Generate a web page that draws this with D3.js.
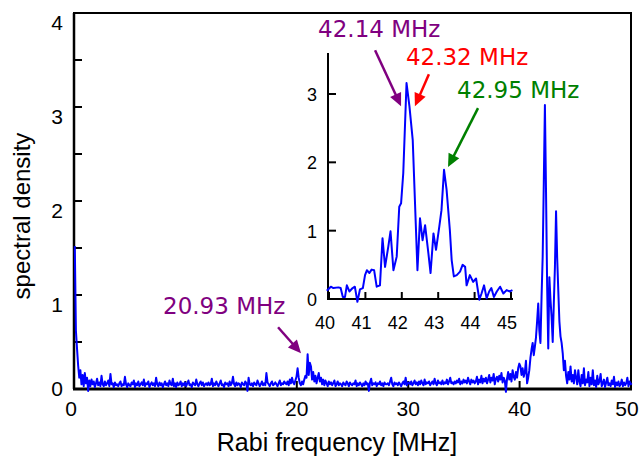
<!DOCTYPE html>
<html><head><meta charset="utf-8">
<script src="https://cdn.jsdelivr.net/npm/d3@7"></script>
<style>body{margin:0;background:#fff}</style>
</head><body>
<svg id="chart" width="641" height="458"></svg>
<script>
// ---- data ----
const mainStep = 0.1; // MHz between samples of the main spectrum
const mainValues = [
 1.52,0.62,0.43,0.25,0.12,0.2,0.05,0.15,0.03,0.17,
 0.06,0.12,-0.02,0.09,0.03,0.1,0.05,0.08,0.02,0.06,
 0.11,0.04,0.07,0.03,0.14,0.05,0.03,0.08,0.04,0.06,
 0.09,0.03,0.16,0.05,0.06,0.02,0.07,0.04,0.05,0.03,
 0.06,0.08,0.03,0.05,0.04,0.13,0.05,0.02,0.06,0.04,
 0.03,0.07,0.05,0.09,0.02,0.06,0.04,0.08,0.03,0.05,
 0.07,0.04,0.1,0.03,0.06,0.05,0.08,0.02,0.05,0.07,
 0.04,0.06,0.03,0.12,0.05,0.03,0.07,0.04,0.06,0.02,
 0.05,0.08,0.04,0.06,0.03,0.09,0.05,0.04,0.11,0.03,
 0.06,0.02,0.07,0.04,0.05,0.08,0.03,0.06,0.04,0.07,
 0.03,0.06,0.09,0.04,0.05,0.02,0.07,0.05,0.04,0.1,
 0.05,0.03,0.06,0.08,0.04,0.07,0.03,0.05,0.06,0.04,
 0.07,0.04,0.05,0.11,0.03,0.06,0.04,0.08,0.05,0.03,
 0.06,0.09,0.04,0.05,0.02,0.07,0.05,0.06,0.03,0.08,
 0.04,0.06,0.13,0.05,0.03,0.07,0.04,0.06,0.05,0.02,
 0.07,0.05,0.04,0.08,0.06,-0.02,0.12,0.05,0.04,0.06,
 0.03,0.07,0.05,0.04,0.09,0.06,0.03,0.05,0.08,0.04,
 0.06,0.04,0.17,0.07,0.05,0.03,0.06,0.08,0.04,0.05,
 0.07,0.05,0.03,0.06,0.09,0.04,0.06,0.05,0.08,0.06,
 0.05,0.08,0.04,0.1,0.06,0.12,0.07,0.05,0.09,0.13,
 0.22,0.12,0.06,0.04,0.08,0.05,0.1,0.14,0.12,0.37,
 0.15,0.28,0.24,0.1,0.18,0.08,0.14,0.06,0.12,0.17,
 0.08,0.12,0.05,0.1,0.04,0.09,0.06,0.03,0.08,0.05,
 0.07,0.04,0.06,0.09,0.03,0.05,0.08,0.04,0.06,0.05,
 0.03,0.07,0.05,0.04,0.08,0.06,0.03,0.07,0.05,0.04,
 0.06,0.05,0.09,0.03,0.06,0.04,0.07,0.05,0.03,0.06,
 0.04,0.08,0.05,0.06,-0.02,0.07,0.11,0.04,0.06,0.05,
 0.07,0.03,0.06,0.05,0.08,0.04,0.06,0.03,0.07,0.05,
 0.05,0.06,0.04,0.08,0.12,0.05,0.03,0.07,0.05,0.06,
 0.04,0.07,0.05,0.03,0.06,0.08,0.05,0.12,0.04,0.06,
 0.07,0.05,0.08,0.04,0.06,0.09,0.05,0.07,0.04,0.08,
 0.05,0.09,0.06,0.04,0.1,0.05,0.07,0.06,0.08,0.04,
 0.06,0.08,0.05,0.11,0.06,0.04,0.09,0.06,0.07,0.05,
 0.09,0.05,0.07,0.06,0.1,0.05,0.08,0.12,0.06,0.07,
 0.05,0.08,0.06,0.09,0.07,0.11,0.05,0.08,0.06,0.1,
 0.07,0.09,0.06,0.12,0.08,0.05,0.1,0.07,0.09,0.06,
 0.08,0.13,0.05,0.1,0.07,0.14,0.06,0.11,0.08,0.12,
 0.06,0.1,0.15,0.07,0.12,0.09,0.16,0.05,0.11,0.13,
 0.08,0.14,0.1,0.17,0.07,0.12,0.09,-0.03,0.11,0.18,
 0.1,0.16,0.08,0.2,0.13,0.1,0.18,0.12,0.22,0.27,
 0.24,0.15,0.22,0.13,0.18,0.3,0.06,0.12,0.2,0.33,
 0.42,0.49,0.36,0.45,0.55,0.72,0.91,0.62,0.49,0.98,
 1.41,2.2,3.02,2.1,1.1,0.43,1.19,0.95,0.77,0.5,
 0.91,1.3,1.89,1.4,1.05,0.72,0.56,0.49,0.38,0.2,
 0.3,0.14,0.06,0.18,0.1,0.24,0.08,0.15,0.06,0.2,
 0.12,0.05,0.2,0.08,0.03,0.15,0.06,0.22,0.04,0.1,
 0.07,0.18,0.03,0.12,0.05,0.2,0.04,0.09,0.02,0.14,
 0.05,0.08,0.16,0.03,0.06,0.1,0.02,0.07,0.12,0.04,
 0.06,0.03,0.09,0.05,0.13,0.02,0.07,0.04,0.08,0.03,
 0.05,0.1,0.03,0.07,0.04,0.06,0.12,0.03,0.08,0.05,
 0.06
];
const insetFreq = [39.94,40.05,40.12,40.26,40.32,40.38,40.44,40.49,40.56,40.65,40.71,40.78,40.85,40.93,40.99,
 41.04,41.11,41.17,41.24,41.31,41.40,41.47,41.54,41.63,41.69,41.77,41.86,41.93,41.98,
 42.04,42.13,42.21,42.30,42.43,42.50,42.57,42.64,42.73,42.79,42.87,42.94,
 43.03,43.09,43.16,43.23,43.32,43.37,43.43,43.51,43.60,43.67,43.74,43.78,43.87,43.96,
 44.04,44.13,44.19,44.26,44.33,44.40,44.46,44.53,44.61,44.70,44.79,44.88,44.97,45.04];
const insetValues = [0.12,0.18,0.16,0.17,0.16,0.03,0.03,0.2,0.11,0.16,0.18,-0.04,0.14,0.16,0.35,
 0.42,0.38,0.43,0.42,0.18,0.2,0.89,0.47,0.77,0.99,0.42,0.62,1.35,1.40,
 1.84,3.16,2.82,2.33,0.42,1.18,0.86,1.08,0.67,0.38,0.96,0.72,
 1.06,1.30,1.89,1.6,1.01,0.57,0.33,0.35,0.40,0.50,0.47,0.2,0.35,0.25,
 0.3,-0.01,0.08,0.2,0.01,0.11,0.16,0.03,0.11,0.18,0.08,0.13,0.11,0.13];
const mainXTicks = [0,10,20,30,40,50];
const mainYTicks = [0,1,2,3,4];
const mainYMinorTicks = [0.5,1.5,2.5,3.5];
const insetXTicks = [40,41,42,43,44,45];
const insetYTicks = [0,1,2,3];
const xTitle = "Rabi frequency [MHz]";
const yTitle = "spectral density";
const annotationLabels = ["42.14 MHz","42.32 MHz","42.95 MHz","20.93 MHz"];
const annotationColors = ["#800080","#ff0000","#008000","#800080"];
const annotationPanels = ["inset","inset","inset","main"];
const annotationTipFreq = [41.98,42.36,43.27,20.38];
const annotationTipValue = [2.82,2.82,1.93,0.38];

// ---- layout ----
const L = {
  main:{left:74,right:631,top:13,bottom:389},
  inset:{left:329,right:511,axisLeft:328,axisRight:513,top:53,bottom:299,yMaxPx:94},
  arrowTail:[[-26,-56],[14,-32],[30,-59],[-23,-26]],
  textPos:[[-83,-69],[-9,-41],[9,-69],[-138,-39]]
};

const svg = d3.select("#chart");
const x = d3.scaleLinear().domain([0,50]).range([L.main.left,L.main.right]);
const y = d3.scaleLinear().domain([0,4]).range([L.main.bottom,L.main.top]);
const xi = d3.scaleLinear().domain([40,45]).range([L.inset.left,L.inset.right]);
const yi = d3.scaleLinear().domain([0,3]).range([L.inset.bottom,L.inset.yMaxPx]);

const axisFont = "'Liberation Sans', Arial, Helvetica, sans-serif";
const annFont = "'DejaVu Sans', Verdana, sans-serif";

// main frame
svg.append("rect").attr("x",L.main.left).attr("y",L.main.top)
  .attr("width",L.main.right-L.main.left).attr("height",L.main.bottom-L.main.top)
  .attr("fill","none").attr("stroke","#000").attr("stroke-width",2);
svg.append("line").attr("x1",L.main.left-1).attr("x2",L.main.right+1)
  .attr("y1",L.main.bottom).attr("y2",L.main.bottom).attr("stroke","#000").attr("stroke-width",3);
svg.append("line").attr("x1",L.main.left).attr("x2",L.main.left)
  .attr("y1",L.main.top).attr("y2",L.main.bottom).attr("stroke","#000").attr("stroke-width",2.5);

// main ticks
const g = svg.append("g");
mainYTicks.concat(mainYMinorTicks).forEach(t=>{
  g.append("line").attr("x1",L.main.left).attr("x2",L.main.left+8)
    .attr("y1",y(t)).attr("y2",y(t)).attr("stroke","#000").attr("stroke-width",2);
});
mainXTicks.forEach(t=>{
  g.append("line").attr("x1",x(t)).attr("x2",x(t))
    .attr("y1",L.main.bottom).attr("y2",L.main.bottom-8).attr("stroke","#000").attr("stroke-width",2);
});

// main data line (drawn over the axes, as in the reference)
const mainData = mainValues.map((v,i)=>[i*mainStep, v]);
svg.append("path").datum(mainData)
  .attr("d", d3.line().x(d=>x(d[0])+0.8).y(d=>y(d[1])))
  .attr("fill","none").attr("stroke","#0000ff").attr("stroke-width",2)
  .attr("stroke-linejoin","round");

mainYTicks.forEach(t=>{
  g.append("text").attr("x",L.main.left-11).attr("y", t===0 ? y(t)+7 : y(t)+17)
    .attr("text-anchor","end").attr("font-family",axisFont).attr("font-size",21)
    .attr("fill","#000").text(t);
});
mainXTicks.forEach(t=>{
  g.append("text").attr("x",x(t)+(t===0?-3:(t===50?-4:0))).attr("y",L.main.bottom+27)
    .attr("text-anchor","middle").attr("font-family",axisFont).attr("font-size",21)
    .attr("fill","#000").text(t);
});
svg.append("text").attr("x",337).attr("y",451).attr("text-anchor","middle")
  .attr("font-family",axisFont).attr("font-size",25).text(xTitle);
svg.append("text").attr("transform","translate(30,216) rotate(-90)").attr("text-anchor","middle")
  .attr("font-family",axisFont).attr("font-size",24).text(yTitle);

// inset
const ig = svg.append("g");
ig.append("line").attr("x1",L.inset.axisLeft).attr("x2",L.inset.axisLeft)
  .attr("y1",L.inset.top).attr("y2",L.inset.bottom+1).attr("stroke","#000").attr("stroke-width",2);
ig.append("line").attr("x1",L.inset.axisLeft).attr("x2",L.inset.axisRight)
  .attr("y1",L.inset.bottom).attr("y2",L.inset.bottom).attr("stroke","#000").attr("stroke-width",2);
insetYTicks.forEach(t=>{
  ig.append("line").attr("x1",L.inset.axisLeft).attr("x2",L.inset.axisLeft+8)
    .attr("y1",yi(t)).attr("y2",yi(t)).attr("stroke","#000").attr("stroke-width",2);
  ig.append("text").attr("x",L.inset.axisLeft-11).attr("y",yi(t)+7)
    .attr("text-anchor","end").attr("font-family",axisFont).attr("font-size",18).text(t);
});
insetXTicks.forEach(t=>{
  ig.append("line").attr("x1",xi(t)).attr("x2",xi(t))
    .attr("y1",L.inset.bottom).attr("y2",L.inset.bottom-7).attr("stroke","#000").attr("stroke-width",2);
  ig.append("text").attr("x",xi(t)-4).attr("y",L.inset.bottom+30)
    .attr("text-anchor","middle").attr("font-family",axisFont).attr("font-size",18).text(t);
});
ig.append("path").datum(insetFreq.map((f,i)=>[f,insetValues[i]]))
  .attr("d", d3.line().x(d=>xi(d[0])).y(d=>yi(d[1])))
  .attr("fill","none").attr("stroke","#0000ff").attr("stroke-width",2)
  .attr("stroke-linejoin","round");

// annotations
annotationLabels.forEach((lab,i)=>{
  const sx = annotationPanels[i]==="inset"?xi:x, sy = annotationPanels[i]==="inset"?yi:y;
  const tx = sx(annotationTipFreq[i]), ty = sy(annotationTipValue[i]);
  const ax = tx+L.arrowTail[i][0], ay = ty+L.arrowTail[i][1];
  const c = annotationColors[i];
  const dx = tx-ax, dy = ty-ay, len = Math.hypot(dx,dy), ux=dx/len, uy=dy/len;
  const hl = 13, hw = 6;
  const bx = tx-ux*hl, by = ty-uy*hl;
  svg.append("line").attr("x1",ax).attr("y1",ay).attr("x2",bx+ux*2).attr("y2",by+uy*2)
    .attr("stroke",c).attr("stroke-width",2.5);
  svg.append("path").attr("d",`M${tx},${ty}L${bx-uy*hw},${by+ux*hw}L${bx+uy*hw},${by-ux*hw}Z`)
    .attr("fill",c);
  svg.append("text").attr("x",tx+L.textPos[i][0]).attr("y",ty+L.textPos[i][1])
    .attr("font-family",annFont).attr("font-size",23).attr("fill",c).text(lab);
});
</script>
</body></html>
